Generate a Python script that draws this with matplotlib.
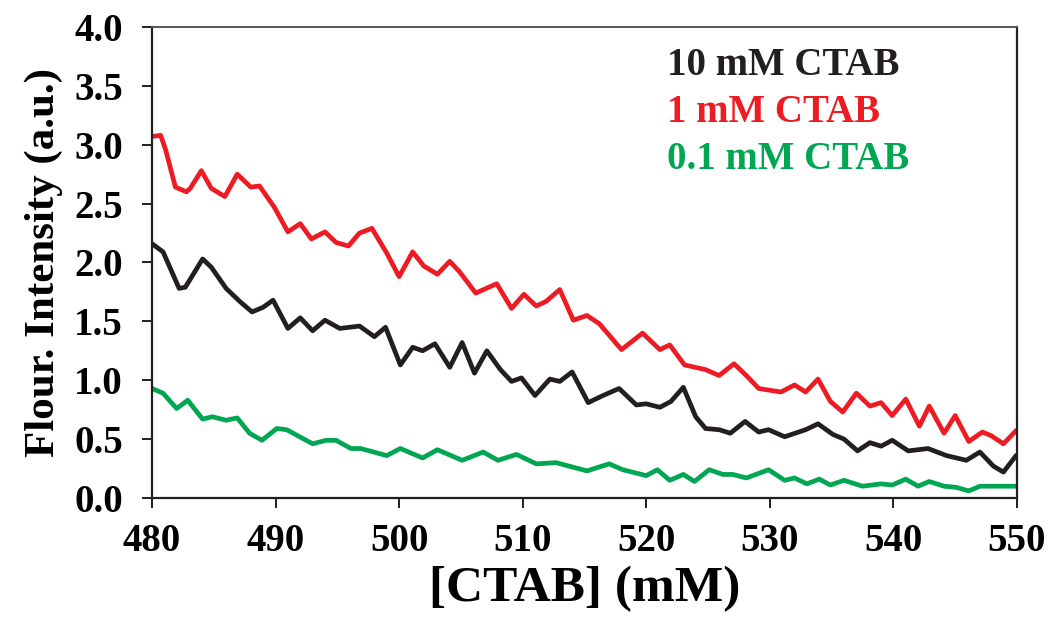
import matplotlib
matplotlib.use("Agg")
import matplotlib.pyplot as plt

# emission spectra, wavelength axis labelled as [CTAB]
x_10mm = [480.0, 480.9, 482.2, 482.7, 484.1, 484.8, 486.0, 487.1, 488.1, 489.0,
          489.8, 491.0, 492.0, 493.0, 494.0, 495.2, 496.8, 498.0, 498.9, 500.1,
          501.1, 501.9, 502.9, 504.1, 505.1, 506.1, 507.1, 508.2, 509.1, 509.9,
          511.0, 512.2, 513.0, 514.0, 515.3, 516.5, 517.8, 519.2, 520.0, 521.1,
          522.0, 523.0, 524.0, 524.8, 525.9, 526.8, 528.0, 529.1, 529.9, 531.2,
          532.9, 533.9, 535.1, 536.0, 537.1, 538.1, 539.0, 539.9, 541.2, 542.8,
          544.3, 545.9, 547.0, 548.1, 548.9, 550.0]
y_10mm = [2.16, 2.09, 1.78, 1.79, 2.03, 1.96, 1.78, 1.67, 1.58, 1.62,
          1.68, 1.44, 1.53, 1.42, 1.51, 1.44, 1.46, 1.37, 1.45, 1.13,
          1.28, 1.25, 1.31, 1.11, 1.32, 1.06, 1.25, 1.09, 0.99, 1.02,
          0.87, 1.01, 0.99, 1.07, 0.81, 0.87, 0.93, 0.79, 0.80, 0.77,
          0.82, 0.94, 0.69, 0.59, 0.58, 0.55, 0.65, 0.56, 0.58, 0.52,
          0.58, 0.63, 0.54, 0.50, 0.40, 0.47, 0.44, 0.49, 0.40, 0.42,
          0.36, 0.32, 0.39, 0.27, 0.22, 0.37]

x_1mm = [480.0, 480.7, 481.1, 481.9, 482.8, 483.1, 484.0, 484.8, 485.9, 486.9,
         488.0, 488.7, 489.9, 491.0, 492.0, 492.9, 494.0, 494.9, 495.9, 496.8,
         497.8, 499.0, 500.0, 501.1, 502.0, 503.1, 504.1, 504.9, 506.2, 507.9,
         509.1, 510.1, 511.1, 511.9, 513.0, 514.1, 515.2, 516.2, 518.0, 519.7,
         521.1, 521.9, 523.1, 524.8, 525.9, 527.1, 528.1, 529.1, 530.9, 532.0,
         532.9, 533.9, 534.9, 535.9, 537.0, 538.1, 539.0, 539.9, 541.0, 542.1,
         542.9, 544.1, 545.0, 546.1, 547.2, 547.9, 548.9, 550.0]
y_1mm = [3.07, 3.08, 2.96, 2.64, 2.60, 2.63, 2.78, 2.63, 2.56, 2.75,
         2.64, 2.65, 2.47, 2.26, 2.33, 2.20, 2.26, 2.17, 2.14, 2.25,
         2.29, 2.08, 1.88, 2.09, 1.97, 1.90, 2.01, 1.92, 1.74, 1.82,
         1.61, 1.73, 1.63, 1.67, 1.77, 1.51, 1.55, 1.48, 1.26, 1.40,
         1.26, 1.30, 1.13, 1.09, 1.04, 1.14, 1.04, 0.93, 0.90, 0.96,
         0.90, 1.01, 0.82, 0.73, 0.89, 0.78, 0.81, 0.70, 0.84, 0.61,
         0.78, 0.55, 0.70, 0.48, 0.56, 0.53, 0.46, 0.58]

x_01mm = [480.0, 480.9, 482.0, 482.9, 484.1, 484.9, 486.0, 486.9, 487.9, 488.9,
          490.1, 490.9, 493.0, 494.1, 494.9, 496.1, 496.9, 499.0, 500.1, 501.9,
          503.1, 505.1, 506.8, 508.0, 509.5, 511.1, 512.7, 515.2, 517.0, 518.1,
          520.0, 520.9, 521.9, 523.0, 523.9, 525.1, 526.2, 527.0, 528.1, 529.9,
          531.2, 532.0, 533.0, 534.0, 534.9, 536.0, 537.5, 539.0, 539.9, 541.0,
          542.0, 542.9, 544.1, 545.1, 546.1, 547.0, 550.0]
y_01mm = [0.93, 0.89, 0.76, 0.83, 0.67, 0.69, 0.66, 0.68, 0.55, 0.49,
          0.59, 0.58, 0.46, 0.49, 0.49, 0.42, 0.42, 0.36, 0.42, 0.34,
          0.41, 0.32, 0.39, 0.32, 0.37, 0.29, 0.30, 0.23, 0.29, 0.24,
          0.19, 0.24, 0.15, 0.20, 0.14, 0.24, 0.20, 0.20, 0.17, 0.24,
          0.15, 0.17, 0.12, 0.16, 0.11, 0.15, 0.10, 0.12, 0.11, 0.16,
          0.10, 0.14, 0.10, 0.09, 0.06, 0.10, 0.10]

labels = ["10 mM CTAB", "1 mM CTAB", "0.1 mM CTAB"]
colors = ["#231F20", "#ED1C24", "#00A651"]

plt.rcParams["font.family"] = ["Liberation Serif", "DejaVu Serif"]
plt.rcParams["font.weight"] = "bold"

fig = plt.figure(figsize=(10.53, 6.31), dpi=100)
ax = fig.add_axes([0.1443, 0.2108, 0.8215, 0.7464])

series = [(x_10mm, y_10mm), (x_1mm, y_1mm), (x_01mm, y_01mm)]
for (xs, ys), c in zip(series, colors):
    ax.plot(xs, ys, color=c, lw=3.4, solid_joinstyle="round", solid_capstyle="butt")

ax.set_xlim(480, 550)
ax.set_ylim(0, 4.0)
ax.set_xticks(range(480, 551, 10))
ax.set_yticks([i * 0.5 for i in range(9)])
ax.set_yticklabels([f"{i * 0.5:.1f}" for i in range(9)])

for s in ["left", "right", "bottom"]:
    ax.spines[s].set_linewidth(1.6)
    ax.spines[s].set_color("#231F20")
ax.spines["top"].set_linewidth(1.4)
ax.spines["top"].set_color("#555555")

ax.tick_params(axis="both", direction="out", length=7, width=1.4, color="#231F20",
               labelsize=28)
ax.tick_params(axis="y", pad=14)
ax.tick_params(axis="x", pad=11)

ax.set_xlabel("[CTAB] (mM)", fontsize=37, fontweight="bold", labelpad=4)
ax.set_ylabel("Flour. Intensity (a.u.)", fontsize=31, fontweight="bold", labelpad=8)

for i, (lab, c) in enumerate(zip(labels, colors)):
    ax.text(0.595, 0.918 - i * 0.1, lab, color=c, fontsize=28, fontweight="bold",
            transform=ax.transAxes, va="center", ha="left")

fig.savefig("out.png", dpi=100)
